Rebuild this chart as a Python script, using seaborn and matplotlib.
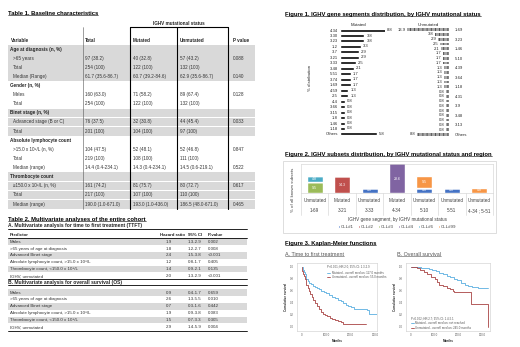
import matplotlib
matplotlib.use('Agg')
import matplotlib.pyplot as plt
from matplotlib.patches import Rectangle
import numpy as np
import seaborn as sns

# ---------------- data ----------------
# Table 1. Baseline characteristics
t1_vars = ["Age at diagnosis (n, %)", ">65 years", "Total", "Median (Range)",
           "Gender (n, %)", "Males", "Total",
           "Binet stage (n, %)", "Advanced stage (B or C)", "Total",
           "Absolute lymphocyte count", ">15.0 x 10⁹/L (n, %)", "Total", "Median (range)",
           "Thrombocyte count", "≥150.0 x 10⁹/L (n, %)", "Total", "Median (range)"]
t1_total = ["", "97 (38.2)", "254 (100)", "61.7 (35.6-86.7)", "", "160 (63.0)", "254 (100)",
            "", "76 (37.5)", "201 (100)", "", "104 (47.5)", "219 (100)", "14.4 (0.4-234.1)",
            "", "161 (74.2)", "217 (100)", "190.0 (1.0-671.0)"]
t1_mut = ["", "40 (32.8)", "122 (100)", "60.7 (39.2-84.6)", "", "71 (58.2)", "122 (100)",
          "", "32 (30.8)", "104 (100)", "", "52 (48.1)", "108 (100)", "14.3 (0.4-234.1)",
          "", "81 (75.7)", "107 (100)", "193.0 (1.0-436.0)"]
t1_unm = ["", "57 (43.2)", "132 (100)", "62.9 (35.6-86.7)", "", "89 (67.4)", "132 (100)",
          "", "44 (45.4)", "97 (100)", "", "52 (46.8)", "111 (100)", "14.5 (0.6-219.1)",
          "", "80 (72.7)", "110 (100)", "186.5 (48.0-671.0)"]
t1_p = ["", "0.088", "", "0.140", "", "0.128", "", "", "0.033", "", "", "0.847", "", "0.522",
        "", "0.617", "", "0.465"]
t1_headers = [0, 4, 7, 10, 14]
t1_shade = [1, 1, 1, 1, 0, 0, 0, 1, 1, 1, 0, 0, 0, 0, 1, 1, 1, 1]

# Table 2. Multivariate analyses
t2_pred = ["Males", ">65 years of age at diagnosis", "Advanced Binet stage",
           "Absolute lymphocyte count, >15.0 x 10⁹/L", "Thrombocyte count, <150.0 x 10⁹/L",
           "IGHV, unmutated"]
ttft_hr = ["1.9", "1.8", "2.4", "1.2", "1.4", "2.0"]
ttft_ci = ["1.3-2.9", "1.2-2.7", "1.5-3.8", "0.8-1.7", "0.9-2.1", "1.3-2.9"]
ttft_p = ["0.002", "0.008", "<0.001", "0.405", "0.135", "<0.001"]
os_hr = ["0.9", "2.6", "0.7", "1.9", "1.5", "2.9"]
os_ci = ["0.4-1.7", "1.3-5.5", "0.3-1.6", "0.9-3.8", "0.7-3.3", "1.4-5.9"]
os_p = ["0.659", "0.010", "0.442", "0.083", "0.305", "0.004"]

# Figure 1. IGHV gene segments
mut_genes = ["4-34", "3-30", "3-23", "1-2", "3-7", "3-21", "3-33", "3-48", "5-51", "3-74",
             "1-69", "4-59", "2-5", "4-4", "3-66", "3-15", "1-8", "1-46", "1-18", "Others"]
mut_pct = [8.8, 3.8, 3.8, 3.3, 2.9, 2.9, 2.5, 2.1, 1.7, 1.7, 1.7, 1.3, 1.3,
           0.8, 0.8, 0.8, 0.8, 0.8, 0.8, 5.8]
unm_genes = ["1-69", "3-11", "3-23", "1-3", "1-46", "3-30", "5-10", "4-59", "4-39", "3-7",
             "3-64", "1-2", "1-18", "3-33", "4-31", "5-51", "3-9", "3-74", "3-48", "4-34",
             "3-13", "2-70", "Others"]
unm_pct = [13.9, 3.8, 2.9, 2.5, 2.1, 1.7, 1.7, 1.7, 1.3, 1.3, 1.3, 1.3, 1.3,
           0.8, 0.8, 0.8, 0.8, 0.8, 0.8, 0.8, 0.8, 0.8, 8.8]

# Figure 2. IGHV subsets
f2_status = ["Unmutated", "Mutated", "Unmutated", "Mutated", "Unmutated", "Unmutated", "Unmutated"]
f2_gene = ["1-69", "3-21", "3-33", "4-34", "5-10", "5-51", "4-34 ; 5-51"]
subsets = ["CLL#1", "CLL#2", "CLL#3", "CLL#4", "CLL#6", "CLL#99"]
sub_vals = [[0, 0, 4.8, 0, 4.8, 4.8, 0],
            [0, 14.3, 0, 0, 0, 0, 0],
            [9.5, 0, 0, 0, 0, 0, 0],
            [0, 0, 0, 28.6, 0, 0, 0],
            [4.8, 0, 0, 0, 0, 0, 0],
            [0, 0, 0, 0, 9.5, 0, 4.8]]
sub_colors = ["#4472C4", "#C0504D", "#9BBB59", "#8064A2", "#4BACC6", "#F79646"]

# Figure 3. Kaplan-Meier
ttft_mut_t = [0, 4, 8, 12, 16, 20, 26, 32, 38, 46, 54, 62, 70, 80, 90, 100, 112, 124, 136, 148,
              160, 170, 180, 190, 200, 215, 230, 250, 268, 276, 300, 318]
ttft_mut_s = [1.0, 0.95, 0.91, 0.87, 0.83, 0.80, 0.76, 0.73, 0.71, 0.68, 0.66, 0.64, 0.62, 0.60,
              0.58, 0.56, 0.53, 0.50, 0.48, 0.45, 0.42, 0.39, 0.36, 0.34, 0.32, 0.30, 0.29, 0.29,
              0.28, 0.21, 0.21, 0.21]
ttft_unm_t = [0, 3, 6, 9, 12, 16, 20, 25, 30, 36, 42, 48, 55, 62, 70, 78, 86, 95, 105, 115, 125,
              138, 150, 160, 168, 200, 240, 262]
ttft_unm_s = [1.0, 0.93, 0.88, 0.84, 0.80, 0.75, 0.70, 0.65, 0.60, 0.55, 0.50, 0.45, 0.40, 0.35,
              0.30, 0.25, 0.21, 0.19, 0.17, 0.15, 0.13, 0.11, 0.09, 0.07, 0.05, 0.05, 0.05, 0.05]
os_mut_t = [0, 15, 30, 45, 60, 75, 90, 105, 120, 135, 150, 165, 180, 195, 210, 225, 240, 255,
            280, 300, 322]
os_mut_s = [1.0, 1.0, 0.99, 0.98, 0.97, 0.96, 0.95, 0.93, 0.90, 0.88, 0.85, 0.82, 0.79, 0.77,
            0.73, 0.69, 0.67, 0.66, 0.65, 0.65, 0.65]
os_unm_t = [0, 10, 25, 40, 55, 70, 85, 100, 110, 120, 135, 150, 165, 175, 180, 200, 220, 246,
            250, 280, 318, 320]
os_unm_s = [1.0, 0.99, 0.97, 0.95, 0.91, 0.87, 0.83, 0.79, 0.74, 0.69, 0.67, 0.65, 0.62, 0.60,
            0.58, 0.58, 0.57, 0.57, 0.38, 0.38, 0.38, 0.0]

# ---------------- figure ----------------
W, H = 520, 347
sns.set_style('white')
plt.rcParams['font.family'] = ['Liberation Sans', 'DejaVu Sans']
plt.rcParams['hatch.linewidth'] = 0.5

fig = plt.figure(figsize=(W / 100, H / 100), dpi=100)
cv = fig.add_axes([0, 0, 1, 1])
cv.set_xlim(0, W)
cv.set_ylim(H, 0)
cv.axis('off')
renderer = fig.canvas.get_renderer()


def rect(x0, y0, x1, y1):
    return [x0 / W, 1 - y1 / H, (x1 - x0) / W, (y1 - y0) / H]


def title(x, y, s, size=4.2, bold=True, color='black'):
    t = cv.text(x, y, s, fontsize=size, fontweight='bold' if bold else 'normal',
                va='center', ha='left', color=color)
    bb = t.get_window_extent(renderer)
    inv = cv.transData.inverted()
    (a, _), (b, _) = inv.transform([[bb.x0, bb.y0], [bb.x1, bb.y0]])
    cv.plot([a, b], [y + 2.3, y + 2.3], color=color, lw=0.4)


fs = 3.3
grey = '#d9d9d9'

# ---- Table 1 ----
title(8, 13, "Table 1. Baseline characteristics")
cv.text(179, 23, "IGHV mutational status", fontsize=fs, fontweight='bold', ha='center', va='center')
cols = [85, 133, 180, 233]
for x, s in zip([11] + cols, ["Variable", "Total", "Mutated", "Unmutated", "P value"]):
    cv.text(x, 40, s, fontsize=fs, fontweight='bold', va='center')
y0, dy = 49, 9.12
for i, v in enumerate(t1_vars):
    y = y0 + i * dy
    if t1_shade[i]:
        cv.add_patch(Rectangle((8, y - 4.3), 247, 8.8, fc=grey, ec='none'))
    if i in t1_headers:
        cv.text(10, y, v, fontsize=fs, fontweight='bold', va='center')
    else:
        cv.text(13, y, v, fontsize=fs, va='center', color='#333333')
        for x, col in zip(cols, [t1_total, t1_mut, t1_unm, t1_p]):
            cv.text(x, y, col[i], fontsize=fs, va='center', color='#333333')
ybot = y0 + 17 * dy + 4.5
cv.plot([83, 83], [27, ybot], color='#555555', lw=0.4)
for x in [130, 177, 228]:
    cv.plot([x, x], [27, ybot], color='black', lw=0.8)
cv.plot([130, 228], [27, 27], color='black', lw=0.8)

# ---- Table 2 ----
title(8, 219, "Table 2. Multivariate analyses of the entire cohort")
fs2 = 3.2


def block(ytop, heading, hr, ci, p, header):
    cv.text(8, ytop, heading, fontsize=3.6, fontweight='bold', va='center')
    cv.plot([8, 247], [ytop + 3, ytop + 3], color='black', lw=0.6)
    y = ytop + 6.6
    if header:
        for x, s in zip([10, 160, 188, 208], ["Predictor", "Hazard ratio", "95% CI", "P-value"]):
            cv.text(x, y + 2.4, s, fontsize=fs2, fontweight='bold', va='center')
        cv.plot([8, 247], [y + 6, y + 6], color='black', lw=0.6)
        y += 6
    for i, pr in enumerate(t2_pred):
        if i % 2 == 0:
            cv.add_patch(Rectangle((8, y + 0.3), 239, 6.4, fc=grey, ec='none'))
        yc = y + 3.5
        cv.text(10, yc, pr, fontsize=fs2, va='center', color='#333333')
        cv.text(166, yc, hr[i], fontsize=fs2, va='center', color='#333333')
        cv.text(188, yc, ci[i], fontsize=fs2, va='center', color='#333333')
        cv.text(208, yc, p[i], fontsize=fs2, va='center', color='#333333')
        y += 6.9
    return y


yend = block(225.5, "A. Multivariate analysis for time to first treatment (TTFT)",
             ttft_hr, ttft_ci, ttft_p, True)
cv.plot([8, 247], [yend - 0.3, yend - 0.3], color='black', lw=0.6)
yend = block(yend + 3, "B. Multivariate analysis for overall survival (OS)",
             os_hr, os_ci, os_p, False)
cv.plot([8, 247], [yend + 0.3, yend + 0.3], color='black', lw=0.6)

# ---- Figure 1 ----
title(285, 14, "Figure 1. IGHV gene segments distribution, by IGHV mutational status")
cv.text(358, 24.5, "Mutated", fontsize=3.2, ha='center', va='center')
cv.text(428, 24.5, "Unmutated", fontsize=3.2, ha='center', va='center')
cv.text(310, 78, "% distribution", fontsize=3.2, rotation=90, ha='center', va='center')

ax_m = fig.add_axes(rect(340, 27.3, 385, 136.7))
sns.barplot(x=mut_pct, y=mut_genes, ax=ax_m, color='black', width=0.55, orient='h',
            saturation=1)
mmax = 7
ax_m.set_xlim(0, mmax)
for i, v in enumerate(mut_pct):
    ax_m.text(min(v, mmax) + 0.3, i, f"{v}", fontsize=3, va='center', clip_on=False)
ax_m.tick_params(axis='y', length=0, labelsize=3, pad=1.5)
ax_m.set_xticks([])
ax_m.set_xlabel('')
sns.despine(ax=ax_m, left=True, bottom=True)

ax_u = fig.add_axes(rect(407, 27.3, 449, 136.7))
sns.barplot(x=unm_pct, y=unm_genes, ax=ax_u, color='#a8a8a8', width=0.6, orient='h',
            saturation=1, hatch='||||', edgecolor='#333333', linewidth=0)
umax = 11.5
ax_u.set_xlim(umax, 0)
for i, v in enumerate(unm_pct):
    ax_u.text(min(v, umax) + 0.4, i, f"{v}", fontsize=3, va='center', ha='right', clip_on=False)
ax_u.yaxis.tick_right()
ax_u.set_yticks(range(len(unm_genes)))
ax_u.set_yticklabels([g if i % 2 == 0 else '' for i, g in enumerate(unm_genes)])
ax_u.tick_params(axis='y', length=0, labelsize=3, pad=4)
ax_u.set_xticks([])
ax_u.set_xlabel('')
sns.despine(ax=ax_u, left=True, bottom=True)

# ---- Figure 2 ----
title(285, 154, "Figure 2. IGHV subsets distribution, by IGHV mutational status and region")
cv.add_patch(Rectangle((283, 161), 213, 72, fill=False, ec='#d0d0d0', lw=0.5))
ax2 = fig.add_axes(rect(301, 164.3, 493, 193.3))
xs = np.arange(len(f2_gene))
bottom = np.zeros(len(f2_gene))
for name, vals, col in zip(subsets, sub_vals, sub_colors):
    vals = np.array(vals)
    bars = ax2.bar(xs, vals, bottom=bottom, width=0.58, color=col, label=name)
    ax2.bar_label(bars, labels=[f"{v}" if v > 0 else '' for v in vals], label_type='center',
                  color='white', fontsize=2.6)
    bottom += vals
ax2.set_ylim(0, 24)
ax2.set_xlim(-0.5, len(f2_gene) - 0.5)
ax2.set_xticks([])
ax2.set_yticks([])
for s in ax2.spines.values():
    s.set_color('#d9d9d9')
    s.set_linewidth(0.5)
tr = ax2.get_xaxis_transform()
for i in xs:
    ax2.text(i, -0.24, f2_status[i], transform=tr, fontsize=3.3, ha='center', va='center',
             color='#404040')
    ax2.text(i, -0.6, f2_gene[i], transform=tr, fontsize=3.3, ha='center', va='center',
             color='#404040')
for b in np.arange(len(f2_gene) + 1) - 0.5:
    ax2.plot([b, b], [0, -0.75], transform=tr, clip_on=False, color='#d9d9d9', lw=0.5)
cv.text(397, 219, "IGHV gene segment, by IGHV mutational status", fontsize=3.3,
        ha='center', va='center', color='#404040')
cv.text(293, 190, "% of all known subsets", fontsize=3.2, rotation=90, ha='center',
        va='center', color='#404040')
ax2.legend(ncol=6, loc='center', bbox_to_anchor=(397 / W, 1 - 227 / H),
           bbox_transform=fig.transFigure, fontsize=3.2, frameon=False, handlelength=0.5,
           handleheight=0.5, columnspacing=0.9, handletextpad=0.2, labelcolor='#404040')

# ---- Figure 3 ----
title(285, 243, "Figure 3. Kaplan-Meier functions")
title(285, 254, "A. Time to first treatment", size=3.9, bold=False, color='#555555')
title(397, 254, "B. Overall survival", size=3.9, bold=False, color='#555555')

blue, red = '#5aaee0', '#a84343'


def km(box, xmax, curves, ptext, labels, txy, lloc):
    ax = fig.add_axes(rect(*box))
    for (t, s), c, lab in zip(curves, [blue, red], labels):
        sns.lineplot(x=t, y=s, ax=ax, color=c, lw=0.6, drawstyle='steps-post',
                     estimator=None, sort=False, label=lab)
    ax.set_xlim(-20, xmax)
    ax.set_ylim(-0.07, 1.06)
    ax.set_xticks([0, 100, 200, 300])
    ax.set_xticklabels(['0', '100.0', '200.0', '300.0'])
    ax.set_yticks([0, 0.2, 0.4, 0.6, 0.8, 1.0])
    ax.set_yticklabels(['0.0', '0.2', '0.4', '0.6', '0.8', '1.0'])
    ax.tick_params(labelsize=2, length=1, width=0.3, pad=1, colors='#555555')
    ax.set_xlabel('Months', fontsize=2.2, fontweight='bold', labelpad=1)
    ax.set_ylabel('Cumulative survival', fontsize=2.2, fontweight='bold', labelpad=1.5)
    for s in ax.spines.values():
        s.set_color('#cccccc')
        s.set_linewidth(0.4)
    ax.text(txy[0], txy[1], ptext, transform=ax.transAxes, fontsize=2.1, color='#555555')
    ax.legend(loc='upper left', bbox_to_anchor=lloc, fontsize=2.1, frameon=False,
              handlelength=1.2, borderpad=0, labelspacing=0.15, handletextpad=0.4,
              labelcolor='#555555')
    return ax


km((296.7, 263, 376.7, 330.7), 307,
   [(ttft_mut_t, ttft_mut_s), (ttft_unm_t, ttft_unm_s)],
   "P<0.001; HR:2.0; 95% CI: 1.3-2.9",
   ["Mutated - overall median: 117.0 months", "Unmutated - overall median: 55.0 months"],
   (0.38, 0.93), (0.36, 0.91))
km((405.7, 263, 490, 330.7), 330,
   [(os_mut_t, os_mut_s), (os_unm_t, os_unm_s)],
   "P=0.002; HR:2.7; 95% CI: 1.4-5.1",
   ["Mutated - overall median: not reached", "Unmutated - overall median: 245.0 months"],
   (0.06, 0.17), (0.04, 0.16))

fig.savefig('out.png', dpi=100)
